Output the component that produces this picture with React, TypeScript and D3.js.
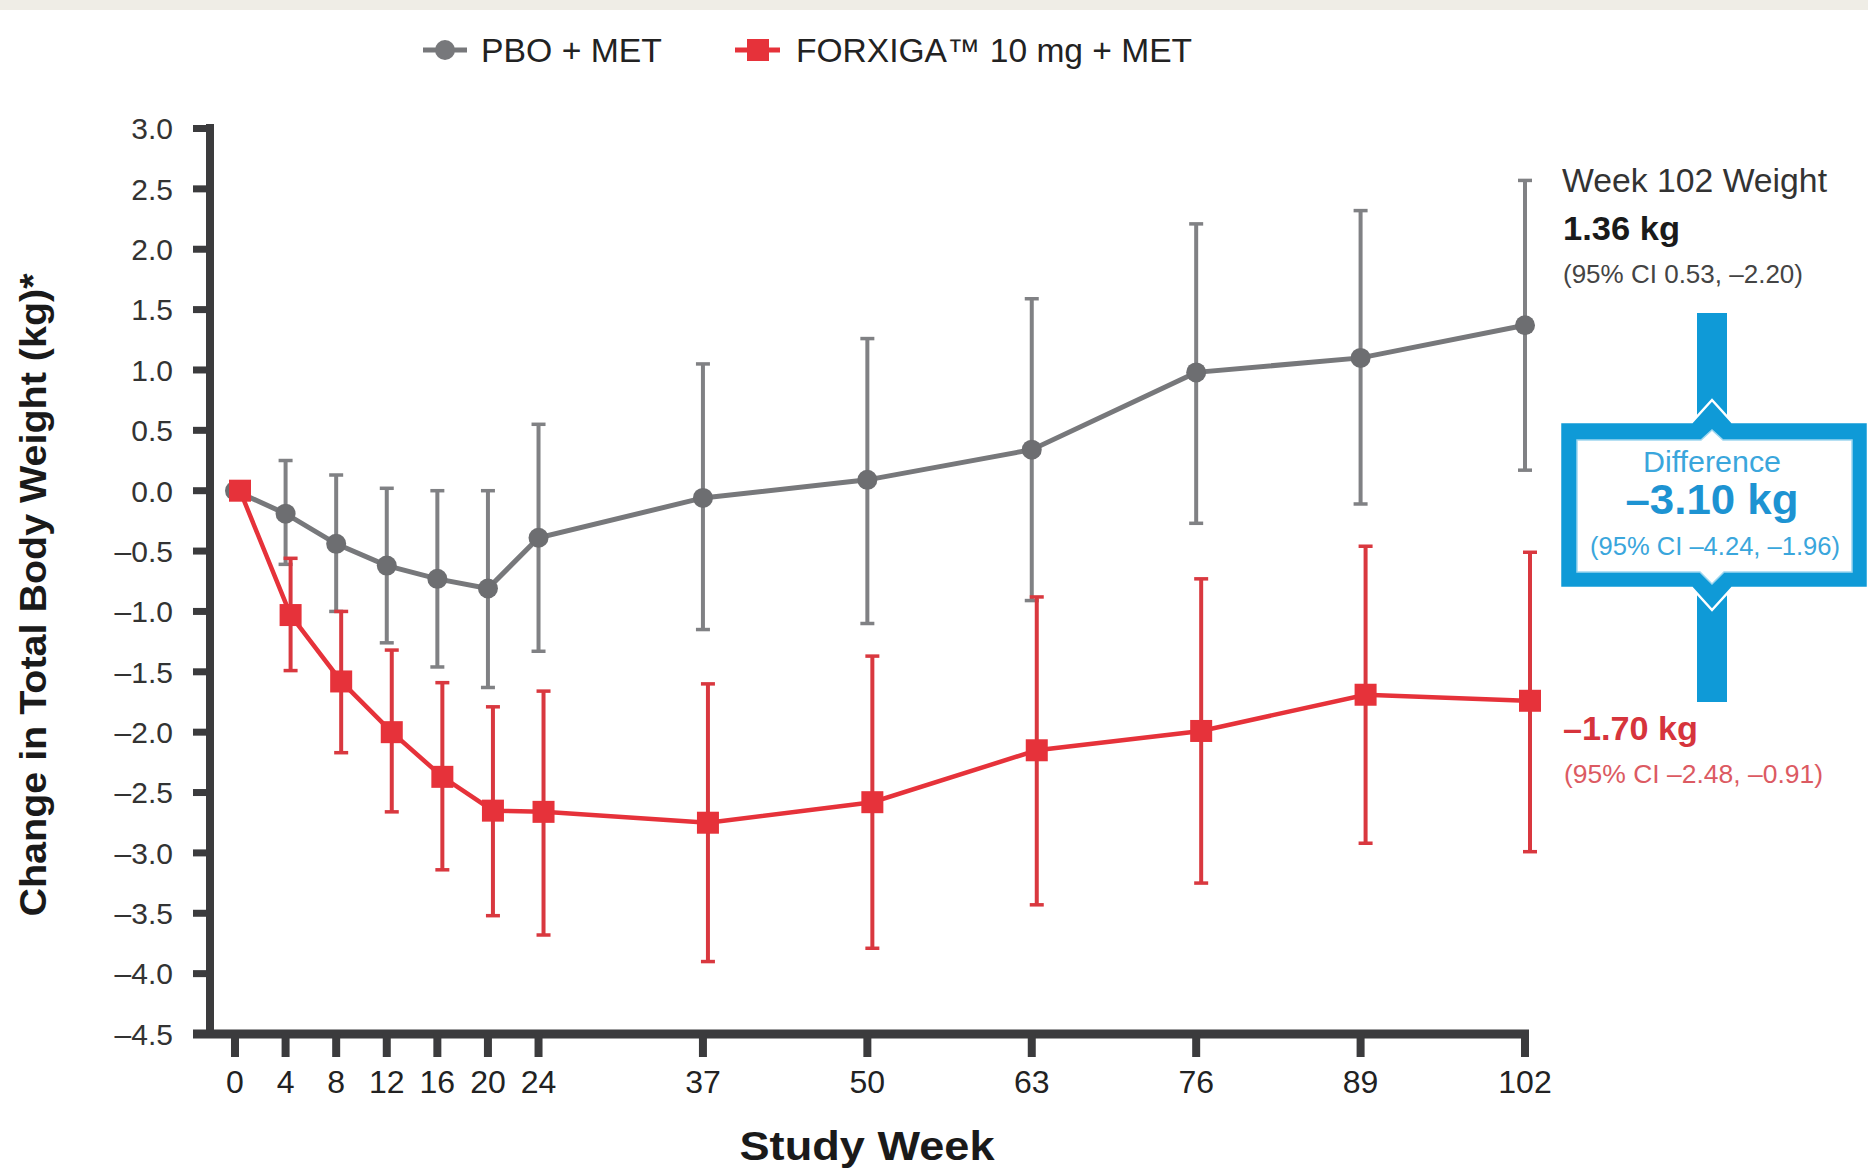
import React from "react";
import * as d3 from "d3";

const weeks = [0, 4, 8, 12, 16, 20, 24, 37, 50, 63, 76, 89, 102];
const pboMean = [0, -0.19, -0.44, -0.62, -0.73, -0.81, -0.39, -0.06, 0.09, 0.34, 0.98, 1.1, 1.37];
const pboUpper = [null, 0.25, 0.13, 0.02, 0.0, 0.0, 0.55, 1.05, 1.26, 1.59, 2.21, 2.32, 2.57];
const pboLower = [null, -0.61, -1.0, -1.26, -1.46, -1.63, -1.33, -1.15, -1.1, -0.91, -0.27, -0.11, 0.17];
const forxMean = [0, -1.03, -1.58, -2.0, -2.37, -2.65, -2.66, -2.75, -2.58, -2.15, -1.99, -1.69, -1.74];
const forxUpper = [null, -0.56, -1.0, -1.32, -1.59, -1.79, -1.66, -1.6, -1.37, -0.88, -0.73, -0.46, -0.51];
const forxLower = [null, -1.49, -2.17, -2.66, -3.14, -3.52, -3.68, -3.9, -3.79, -3.43, -3.25, -2.92, -2.99];
const yTicks = [3.0, 2.5, 2.0, 1.5, 1.0, 0.5, 0.0, -0.5, -1.0, -1.5, -2.0, -2.5, -3.0, -3.5, -4.0, -4.5];
const seriesNames = ["PBO + MET", "FORXIGA\u2122 10 mg + MET"];

const FONT = "'Liberation Sans', Arial, sans-serif";
const GRAY = "#77787b";
const GRAY_BAR = "#808184";
const RED = "#e6323a";
const RED_BAR = "#d9383f";
const BLUE = "#0f9ad7";
const AXIS = "#3b3b3d";

const fmt = (v: number) => d3.format(".1f")(v).replace(/[-\u2212]/, "\u2013");

export default function App() {
  const x = d3.scaleLinear().domain([0, 102]).range([235, 1525]);
  const y = d3.scaleLinear().domain([-4.5, 3]).range([1034, 128.5]);
  const redDx = 5;

  const lineGen = (dx: number) =>
    d3
      .line<number>()
      .x((_, i) => x(weeks[i]) + dx)
      .y((d) => y(d));

  const errBars = (upper: (number | null)[], lower: (number | null)[], dx: number, color: string, key: string) =>
    weeks.map((w, i) => {
      const u = upper[i];
      const l = lower[i];
      if (u === null || l === null) return null;
      const cx = x(w) + dx;
      return (
        <g key={key + i}>
          <line x1={cx} x2={cx} y1={y(u)} y2={y(l)} stroke={color} strokeWidth={4} />
          <line x1={cx - 7} x2={cx + 7} y1={y(u)} y2={y(u)} stroke={color} strokeWidth={3.5} />
          <line x1={cx - 7} x2={cx + 7} y1={y(l)} y2={y(l)} stroke={color} strokeWidth={3.5} />
        </g>
      );
    });

  // callout geometry
  const bx = 1712;
  const outer = [
    [1560, 422], [bx - 20, 422], [bx, 400], [bx + 20, 422], [1868, 422],
    [1868, 588], [bx + 20, 588], [bx, 610], [bx - 20, 588], [1560, 588],
  ];
  const inner = [
    [1577, 440], [bx - 11, 440], [bx, 430], [bx + 11, 440], [1852, 440],
    [1852, 572], [bx + 12, 572], [bx, 584], [bx - 12, 572], [1577, 572],
  ];
  const poly = (pts: number[][]) => pts.map((p) => p.join(",")).join(" ");

  return (
    <svg
      width={1868}
      height={1172}
      style={{ position: "absolute", left: 0, top: 0, background: "#fff", display: "block" }}
      fontFamily={FONT}
    >
      <rect x={0} y={0} width={1868} height={1172} fill="#ffffff" />
      <rect x={0} y={0} width={1868} height={10} fill="#efede6" />

      {/* Legend */}
      <line x1={423} x2={467} y1={50} y2={50} stroke={GRAY} strokeWidth={5} />
      <circle cx={445} cy={50} r={10} fill={GRAY} />
      <text x={481} y={62} fontSize={33} fill="#222" textLength={181} lengthAdjust="spacingAndGlyphs">
        {seriesNames[0]}
      </text>
      <line x1={735} x2={780} y1={50} y2={50} stroke={RED} strokeWidth={5} />
      <rect x={747} y={39} width={22} height={22} fill={RED} />
      <text x={796} y={62} fontSize={33} fill="#222" textLength={396} lengthAdjust="spacingAndGlyphs">
        {seriesNames[1]}
      </text>

      {/* Y axis */}
      <line x1={210} x2={210} y1={124} y2={1038} stroke={AXIS} strokeWidth={8} />
      {yTicks.map((t) => (
        <g key={"yt" + t}>
          <line x1={193} x2={210} y1={y(t)} y2={y(t)} stroke={AXIS} strokeWidth={7} />
          <text x={173} y={y(t)} dy="0.36em" textAnchor="end" fontSize={30} fill="#333">
            {fmt(t)}
          </text>
        </g>
      ))}
      <text
        transform={`translate(33,595) rotate(-90)`}
        textAnchor="middle"
        dy="0.36em"
        fontSize={36}
        fontWeight="bold"
        fill="#1a1a1a"
        textLength={643}
        lengthAdjust="spacingAndGlyphs"
      >
        Change in Total Body Weight (kg)*
      </text>

      {/* X axis */}
      <line x1={193} x2={1529} y1={1034} y2={1034} stroke={AXIS} strokeWidth={9} />
      {weeks.map((w) => (
        <g key={"xt" + w}>
          <line x1={x(w)} x2={x(w)} y1={1034} y2={1057} stroke={AXIS} strokeWidth={8} />
          <text x={x(w)} y={1093} textAnchor="middle" fontSize={32} fill="#222">
            {w}
          </text>
        </g>
      ))}
      <text x={867} y={1160} textAnchor="middle" fontSize={40} fontWeight="bold" fill="#1a1a1a" textLength={255} lengthAdjust="spacingAndGlyphs">
        Study Week
      </text>

      {/* PBO series */}
      {errBars(pboUpper, pboLower, 0, GRAY_BAR, "pe")}
      <path d={lineGen(0)(pboMean) || ""} fill="none" stroke={GRAY} strokeWidth={5} />
      {pboMean.map((v, i) => (
        <circle key={"pc" + i} cx={x(weeks[i])} cy={y(v)} r={10} fill="#6d6e71" />
      ))}

      {/* FORXIGA series */}
      {errBars(forxUpper, forxLower, redDx, RED_BAR, "re")}
      <path d={lineGen(redDx)(forxMean) || ""} fill="none" stroke={RED} strokeWidth={4.5} />
      {forxMean.map((v, i) => (
        <rect key={"rs" + i} x={x(weeks[i]) + redDx - 11} y={y(v) - 11} width={22} height={22} fill={RED} />
      ))}

      {/* Right annotations */}
      <text x={1562} y={192} fontSize={33} fill="#333" textLength={265} lengthAdjust="spacingAndGlyphs">
        Week 102 Weight
      </text>
      <text x={1563} y={240} fontSize={33} fontWeight="bold" fill="#1a1a1a" textLength={117} lengthAdjust="spacingAndGlyphs">
        1.36 kg
      </text>
      <text x={1563} y={283} fontSize={25} fill="#444" textLength={240} lengthAdjust="spacingAndGlyphs">
        (95% CI 0.53, {"\u2013"}2.20)
      </text>

      {/* Difference callout */}
      <rect x={1697} y={313} width={30} height={389} fill={BLUE} />
      <polygon points={poly(outer)} fill={BLUE} stroke="#ffffff" strokeWidth={2.5} />
      <polygon points={poly(inner)} fill="#ffffff" stroke="#9fd6ef" strokeWidth={1.5} />
      <text x={1712} y={472} textAnchor="middle" fontSize={29} fill="#3aa6dc" textLength={138} lengthAdjust="spacingAndGlyphs">
        Difference
      </text>
      <text x={1712} y={514} textAnchor="middle" fontSize={43} fontWeight="bold" fill="#1d93d2" textLength={173} lengthAdjust="spacingAndGlyphs">
        {"\u2013"}3.10 kg
      </text>
      <text x={1715} y={555} textAnchor="middle" fontSize={25} fill="#3aa6dc" textLength={250} lengthAdjust="spacingAndGlyphs">
        (95% CI {"\u2013"}4.24, {"\u2013"}1.96)
      </text>

      <text x={1563} y={740} fontSize={34} fontWeight="bold" fill="#d6343c" textLength={135} lengthAdjust="spacingAndGlyphs">
        {"\u2013"}1.70 kg
      </text>
      <text x={1564} y={783} fontSize={25} fill="#dc5a62" textLength={259} lengthAdjust="spacingAndGlyphs">
        (95% CI {"\u2013"}2.48, {"\u2013"}0.91)
      </text>
    </svg>
  );
}
